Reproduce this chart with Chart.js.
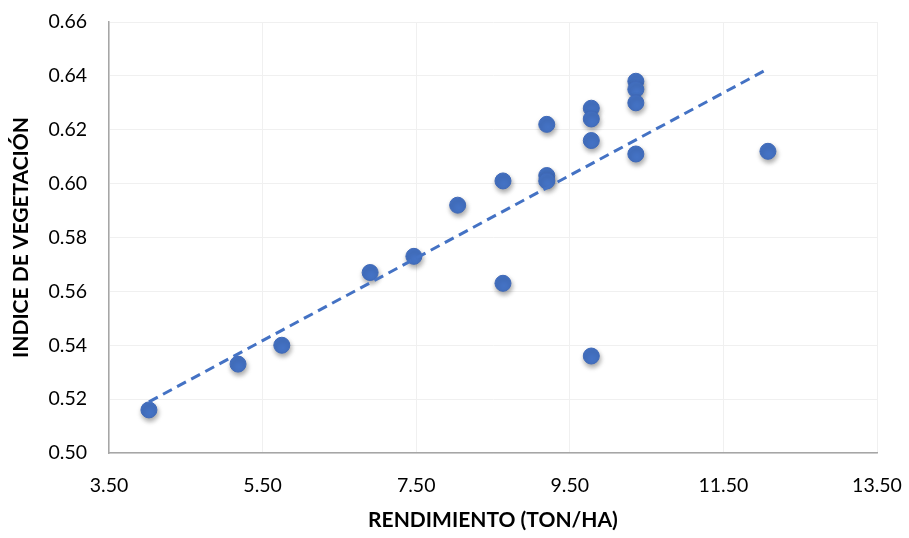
<!DOCTYPE html>
<html>
<head>
<meta charset="utf-8">
<script src="https://cdn.jsdelivr.net/npm/chart.js@4/dist/chart.umd.min.js"></script>
<style>
  html, body { margin: 0; padding: 0; background: #fff; }
  #wrap { width: 909px; height: 538px; }
</style>
</head>
<body>
<div id="wrap"><canvas id="grafico"></canvas></div>
<script>
// rendimiento (ton/ha) vs índice de vegetación
const rendimiento = [4.02, 5.18, 5.75, 6.90, 7.47, 8.04, 8.63, 8.63, 9.20, 9.20, 9.20,
                     9.78, 9.78, 9.78, 9.78, 10.36, 10.36, 10.36, 10.36, 12.08];
const indice = [0.516, 0.533, 0.540, 0.567, 0.573, 0.592, 0.601, 0.563, 0.622, 0.603, 0.601,
                0.628, 0.624, 0.616, 0.536, 0.638, 0.635, 0.630, 0.611, 0.612];

// línea de tendencia (extremos)
const tendenciaX = [4.02, 12.04];
const tendenciaY = [0.519, 0.642];

const puntos = rendimiento.map((x, i) => ({ x: x, y: indice[i] }));
const tendencia = tendenciaX.map((x, i) => ({ x: x, y: tendenciaY[i] }));

const fuente = "Lato, 'Liberation Sans', sans-serif";

// sombra de los marcadores
const sombra = {
  id: 'sombra',
  beforeDatasetDraw(chart, args) {
    if (args.index !== 1) return;
    const ctx = chart.ctx;
    ctx.save();
    ctx.shadowColor = 'rgba(0,0,0,0.35)';
    ctx.shadowBlur = 5;
    ctx.shadowOffsetX = 1;
    ctx.shadowOffsetY = 3;
  },
  afterDatasetDraw(chart, args) {
    if (args.index !== 1) return;
    chart.ctx.restore();
  }
};

new Chart(document.getElementById('grafico'), {
  type: 'scatter',
  data: {
    datasets: [
      {
        type: 'line',
        data: tendencia,
        borderColor: '#4472C4',
        borderWidth: 3,
        borderDash: [10, 6],
        pointRadius: 0,
        fill: false,
        order: 0
      },
      {
        data: puntos,
        backgroundColor: '#4472C4',
        borderColor: '#3F69B8',
        borderWidth: 1,
        pointRadius: 8,
        order: 1
      }
    ]
  },
  options: {
    responsive: true,
    maintainAspectRatio: false,
    animation: false,
    layout: { padding: 0 },
    plugins: {
      legend: { display: false },
      tooltip: { enabled: false }
    },
    scales: {
      x: {
        type: 'linear',
        min: 3.5,
        max: 13.5,
        ticks: {
          stepSize: 2,
          padding: 21,
          color: '#000',
          font: { family: fuente, size: 19.5 },
          callback: v => v.toFixed(2)
        },
        grid: { color: '#f0f0f0', drawTicks: false },
        border: { color: '#a6a6a6', width: 1.5 },
        title: {
          display: true,
          text: 'RENDIMIENTO (TON/HA)',
          color: '#000',
          font: { family: fuente, size: 21, weight: 'bold' },
          padding: { top: 0, bottom: 5 }
        },
        afterFit(s) {
          s.height = 85;
          s.paddingLeft = 0;
          s.paddingRight = 32;
        }
      },
      y: {
        min: 0.5,
        max: 0.66,
        ticks: {
          stepSize: 0.02,
          padding: 22,
          color: '#000',
          font: { family: fuente, size: 19.5 },
          callback: v => v.toFixed(2)
        },
        grid: { color: '#f0f0f0', drawTicks: false },
        border: { color: '#a6a6a6', width: 1.5 },
        title: {
          display: true,
          text: 'INDICE DE VEGETACIÓN',
          color: '#000',
          font: { family: fuente, size: 21, weight: 'bold' },
          padding: { top: 9, bottom: 0 }
        },
        afterFit(s) {
          s.width = 109;
          s.paddingTop = 22;
          s.paddingBottom = 0;
        }
      }
    }
  },
  plugins: [sombra]
});
</script>
</body>
</html>
